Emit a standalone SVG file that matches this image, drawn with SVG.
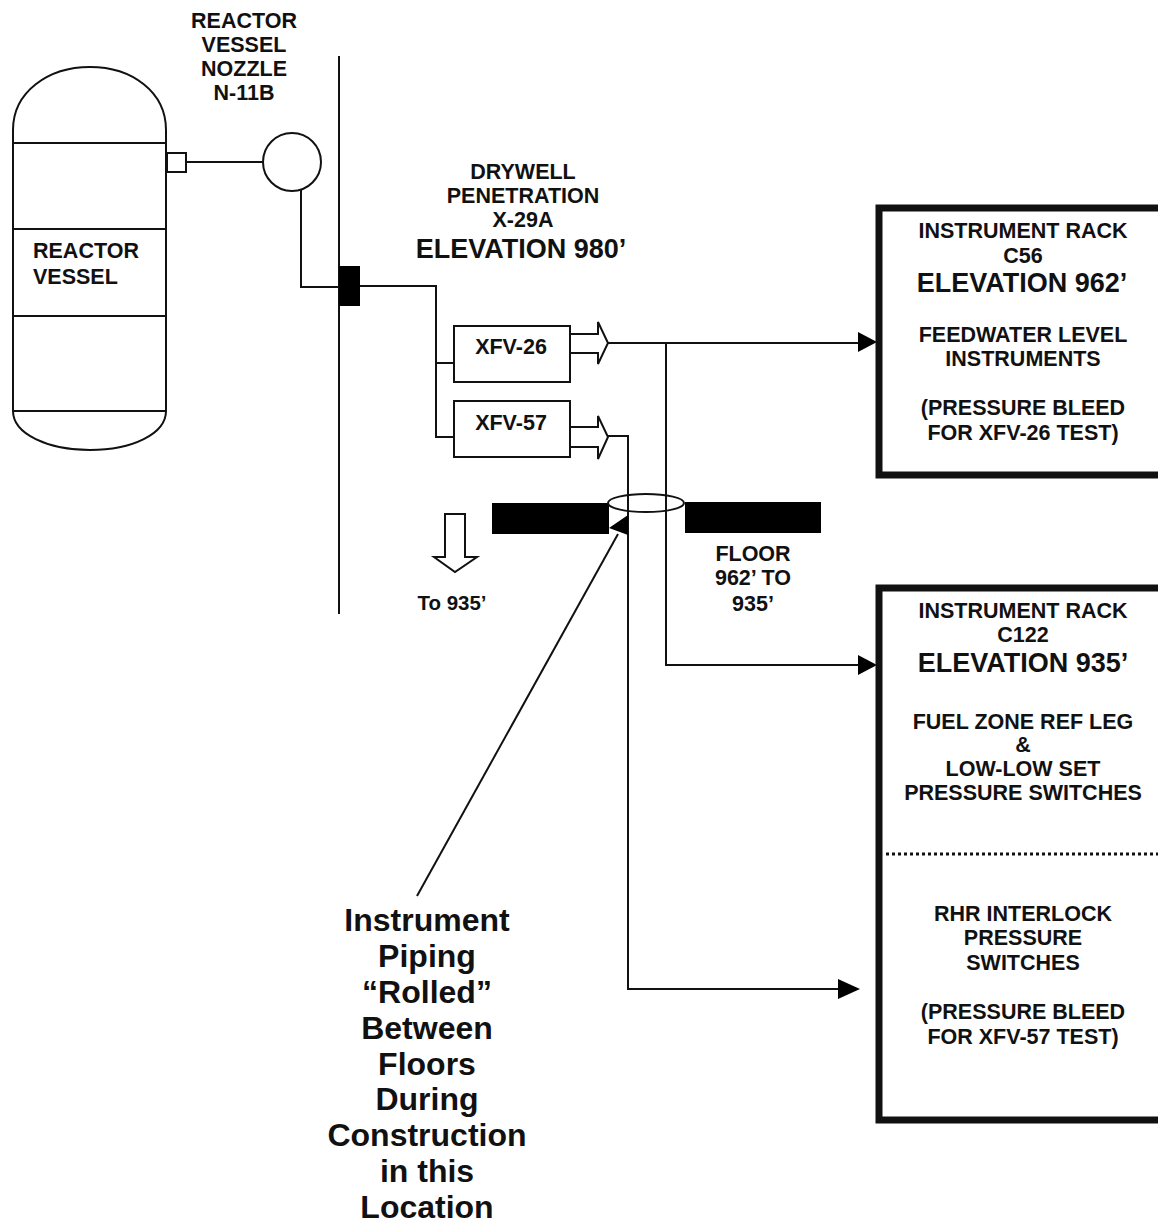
<svg xmlns="http://www.w3.org/2000/svg" width="1158" height="1226" viewBox="0 0 1158 1226">
<defs>
<style>
text{font-family:"Liberation Sans",Arial,sans-serif;font-weight:bold;fill:#111;text-anchor:middle}
.s{font-size:21.5px}
.e{font-size:27px}
.b{font-size:32px}
.l{fill:none;stroke:#111;stroke-width:2}
.w{fill:#fff;stroke:#111;stroke-width:2}
.k{fill:#000;stroke:none}
.r{fill:#fff;stroke:#111;stroke-width:7}
</style>
</defs>
<rect width="1158" height="1226" fill="#fff"/>
<g id="connectors">
<path class="l" d="M187 162H263"/>
<path class="l" d="M301 189V287H340"/>
<path class="l" d="M339 56V614"/>
<path class="l" d="M360 286H436V437H454"/>
<path class="l" d="M436 363H454"/>
<path class="l" d="M608 343H860"/>
<path class="l" d="M666 343V665H860"/>
<path class="l" d="M608 436H628V989H840"/>
<path class="l" d="M417 896L618 534"/>
<path class="k" d="M858 332L877 342L858 352Z"/>
<path class="k" d="M858 655L877 665L858 675Z"/>
<path class="k" d="M838 979L860 989L838 999Z"/>
</g>
<g id="reactor-vessel">
<path class="w" d="M13 130C13 92 48 67 90 67C132 67 166 92 166 130V411C166 434 132 450 90 450C48 450 13 434 13 411Z"/>
<path class="l" d="M13 143H166M13 229H166M13 316H166M13 411H166"/>
<text class="s" x="33" y="258" style="text-anchor:start">REACTOR</text>
<text class="s" x="33" y="284" style="text-anchor:start">VESSEL</text>
</g>
<g id="nozzle-stub"><rect class="w" x="167" y="153" width="19" height="19"/></g>
<g id="nozzle-label">
<text class="s" x="244" y="28">REACTOR</text>
<text class="s" x="244" y="52">VESSEL</text>
<text class="s" x="244" y="76">NOZZLE</text>
<text class="s" x="244" y="100">N-11B</text>
</g>
<g id="nozzle"><circle class="w" cx="292" cy="162" r="29"/></g>
<g id="penetration"><rect class="k" x="339" y="266" width="21" height="40"/></g>
<g id="penetration-label">
<text class="s" x="523" y="179">DRYWELL</text>
<text class="s" x="523" y="203">PENETRATION</text>
<text class="s" x="523" y="227">X-29A</text>
<text class="e" x="521" y="258">ELEVATION 980’</text>
</g>
<g id="xfv-26">
<rect class="w" x="454" y="326" width="116" height="56"/>
<text class="s" x="511" y="354">XFV-26</text>
<path class="l" d="M570 334H598V322L608 343L598 364V353H570"/>
</g>
<g id="xfv-57">
<rect class="w" x="454" y="401" width="116" height="56"/>
<text class="s" x="511" y="430">XFV-57</text>
<path class="l" d="M570 427H598V416L608 437L598 459V447H570"/>
</g>
<g id="floor">
<rect class="k" x="492" y="503" width="117" height="31"/>
<rect class="k" x="685" y="502" width="136" height="31"/>
<ellipse class="l" cx="646" cy="503" rx="38" ry="9"/>
<path class="k" d="M628 515V535L609 528Z"/>
<text class="s" x="753" y="561">FLOOR</text>
<text class="s" x="753" y="585">962’ TO</text>
<text class="s" x="753" y="611">935’</text>
</g>
<g id="down-arrow">
<path class="w" d="M445 514H465V557H477L455 572L434 557H445Z"/>
<text class="s" x="452" y="610" style="font-size:20.5px">To 935’</text>
</g>
<g id="rack-c56">
<rect class="r" x="879" y="208" width="290" height="267"/>
<text class="s" x="1023" y="238">INSTRUMENT RACK</text>
<text class="s" x="1023" y="263">C56</text>
<text class="e" x="1022" y="292">ELEVATION 962’</text>
<text class="s" x="1023" y="342">FEEDWATER LEVEL</text>
<text class="s" x="1023" y="366">INSTRUMENTS</text>
<text class="s" x="1023" y="415">(PRESSURE BLEED</text>
<text class="s" x="1023" y="440">FOR XFV-26 TEST)</text>
</g>
<g id="rack-c122">
<rect class="r" x="879" y="588" width="290" height="532"/>
<path d="M886 854H1158" fill="none" stroke="#111" stroke-width="3" stroke-dasharray="3 3"/>
<text class="s" x="1023" y="618">INSTRUMENT RACK</text>
<text class="s" x="1023" y="642">C122</text>
<text class="e" x="1023" y="672">ELEVATION 935’</text>
<text class="s" x="1023" y="729">FUEL ZONE REF LEG</text>
<text class="s" x="1023" y="752">&amp;</text>
<text class="s" x="1023" y="776">LOW-LOW SET</text>
<text class="s" x="1023" y="800">PRESSURE SWITCHES</text>
<text class="s" x="1023" y="921">RHR INTERLOCK</text>
<text class="s" x="1023" y="945">PRESSURE</text>
<text class="s" x="1023" y="970">SWITCHES</text>
<text class="s" x="1023" y="1019">(PRESSURE BLEED</text>
<text class="s" x="1023" y="1044">FOR XFV-57 TEST)</text>
</g>
<g id="callout">
<text class="b" x="427" y="931">Instrument</text>
<text class="b" x="427" y="967">Piping</text>
<text class="b" x="427" y="1003">“Rolled”</text>
<text class="b" x="427" y="1039">Between</text>
<text class="b" x="427" y="1075">Floors</text>
<text class="b" x="427" y="1110">During</text>
<text class="b" x="427" y="1146">Construction</text>
<text class="b" x="427" y="1182">in this</text>
<text class="b" x="427" y="1218">Location</text>
</g>
</svg>
